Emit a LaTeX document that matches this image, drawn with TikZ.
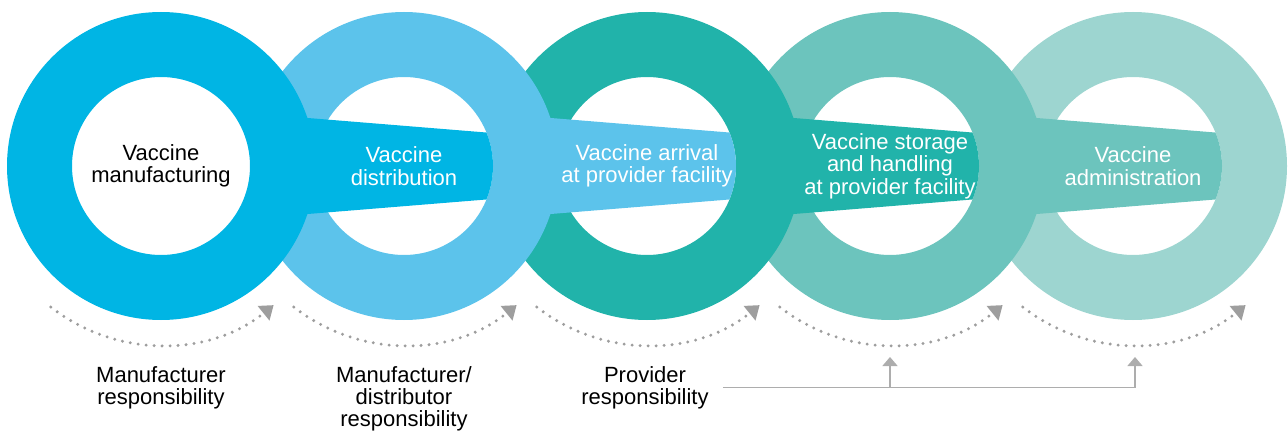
\documentclass[tikz,border=0pt]{standalone}
\usepackage{fontspec}
\setmainfont{Liberation Sans}
\usepackage{xcolor}
\usetikzlibrary{
    arrows.meta,
    positioning
}
\definecolor{ringone}{HTML}{00B5E4}
\definecolor{ringtwo}{HTML}{5CC3EB}
\definecolor{ringthree}{HTML}{21B3AA}
\definecolor{ringfour}{HTML}{6CC4BD}
\definecolor{ringfive}{HTML}{9DD5D0}
\definecolor{guidegray}{HTML}{9E9E9E}

\begin{document}
\begin{tikzpicture}[x=1pt, y=1pt,
    steplabel/.style={align=center, text=white, inner sep=0pt,
        font=\fontsize{22}{22.5}\selectfont},
    rolelabel/.style={align=center, text=black, inner sep=0pt, anchor=north,
        font=\fontsize{22}{22}\selectfont},
    flowarc/.style={guidegray, line width=3.3pt, line cap=round,
        dash pattern=on 0pt off 8pt,
        -{Triangle[length=13pt, width=18pt]}},
    guideline/.style={guidegray!85, line width=1.4pt,
        -{Triangle[length=9pt, width=15pt]}}
]
    \useasboundingbox (0, 0) rectangle (1288, 432);
    \coordinate (c1) at (161, 266);
    \coordinate (c2) at (404, 266);
    \coordinate (c3) at (647, 266);
    \coordinate (c4) at (890, 266);
    \coordinate (c5) at (1133, 266);
    \foreach \i/\col in {5/ringfive, 4/ringfour, 3/ringthree, 2/ringtwo, 1/ringone}
    {
        \fill[\col, even odd rule] (c\i) circle[radius=154] (c\i) circle[radius=89];
        \ifnum\i<5
            \pgfmathtruncatemacro{\j}{\i + 1}
            \fill[\col] ([shift={(110, 51)}]c\i)
                -- ([shift={(22.1:89)}]c\j) arc[start angle=22.1, end angle=-22.1, radius=89]
                -- ([shift={(110, -51)}]c\i) -- cycle;
        \fi
    }
    \foreach \i in {1, ..., 5}
        \draw[flowarc] (c\i) ++(232:179) arc[start angle=232, end angle=309, radius=179];

    \node[steplabel, text=black] (make) at (c1) {Vaccine\\manufacturing};
    \node[steplabel] (ship) at (c2) {Vaccine\\distribution};
    \node[steplabel] (arrive) at (c3) {Vaccine arrival\\at provider facility};
    \node[steplabel] (store) at (c4) {Vaccine storage\\and handling\\at provider facility};
    \node[steplabel] (give) at (c5) {Vaccine\\administration};

    \node[rolelabel] (mfrrole) at (161, 66) {Manufacturer\\responsibility};
    \node[rolelabel] (distrole) at (404, 66) {Manufacturer/\\distributor\\responsibility};
    \node[rolelabel] (provrole) at (645, 66) {Provider\\responsibility};

    \coordinate (storetip) at (890, 75);
    \coordinate (givetip) at (1135, 75);
    \draw[guideline] ([xshift=14pt]provrole.east) -| (givetip);
    \draw[guideline] (provrole.east -| storetip) -- (storetip);
\end{tikzpicture}
\end{document}
